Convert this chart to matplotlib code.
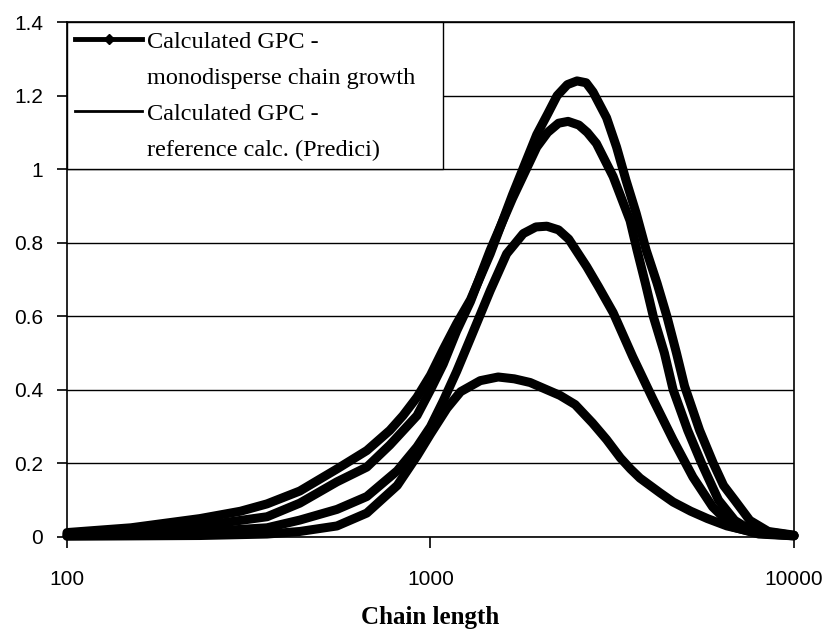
import matplotlib.pyplot as plt
from matplotlib.lines import Line2D
from matplotlib.ticker import NullLocator

plt.rcParams['font.family'] = ['Liberation Serif', 'DejaVu Serif']

# GPC curves (chain length, signal)
len_a = [100, 150, 232, 300, 355, 437, 553, 668, 773, 840, 918, 1000, 1084, 1180, 1288,
         1460, 1680, 1960, 2100, 2230, 2380, 2530, 2680, 2800, 3050, 3250, 3450, 3680,
         3920, 4200, 4470, 4750, 5000, 5500, 6000, 6400, 6870, 7560, 8500, 10000]
gpc_a = [0.012, 0.025, 0.05, 0.07, 0.09, 0.125, 0.185, 0.235, 0.29, 0.33, 0.38, 0.44,
         0.51, 0.58, 0.645, 0.77, 0.93, 1.094, 1.15, 1.2, 1.23, 1.24, 1.235, 1.21, 1.14,
         1.06, 0.97, 0.88, 0.78, 0.69, 0.6, 0.5, 0.41, 0.29, 0.2, 0.14, 0.1, 0.045, 0.015,
         0.005]

len_b = [100, 232, 355, 437, 553, 668, 773, 918, 1000, 1084, 1180, 1288, 1460, 1680,
         1960, 2100, 2250, 2390, 2560, 2700, 2860, 3180, 3540, 3700, 3900, 4100, 4400,
         4650, 5100, 5570, 6200, 6870, 7560, 10000]
gpc_b = [0.008, 0.03, 0.055, 0.092, 0.15, 0.19, 0.25, 0.33, 0.4, 0.47, 0.56, 0.64, 0.78,
         0.92, 1.06, 1.1, 1.125, 1.13, 1.12, 1.1, 1.07, 0.98, 0.86, 0.78, 0.69, 0.6, 0.5,
         0.4, 0.29, 0.2, 0.1, 0.045, 0.02, 0.004]

len_c = [100, 232, 355, 437, 553, 668, 810, 918, 1000, 1084, 1180, 1288, 1460, 1620,
         1800, 1950, 2090, 2250, 2400, 2690, 2900, 3180, 3600, 4100, 4650, 5270, 5970,
         6800, 8000, 10000]
gpc_c = [0.004, 0.014, 0.025, 0.046, 0.075, 0.11, 0.18, 0.245, 0.3, 0.37, 0.45, 0.54,
         0.67, 0.77, 0.825, 0.843, 0.845, 0.835, 0.81, 0.735, 0.68, 0.61, 0.49, 0.373,
         0.264, 0.163, 0.082, 0.027, 0.008, 0.003]

len_d = [100, 232, 355, 437, 553, 668, 810, 918, 1000, 1110, 1210, 1370, 1535, 1700,
         1880, 2270, 2500, 2790, 3050, 3330, 3550, 3770, 4280, 4650, 5200, 5780, 6540,
         8000, 10000]
gpc_d = [0.002, 0.004, 0.008, 0.015, 0.03, 0.065, 0.14, 0.22, 0.28, 0.35, 0.395, 0.425,
         0.435, 0.43, 0.42, 0.385, 0.36, 0.31, 0.265, 0.215, 0.185, 0.16, 0.12, 0.095,
         0.07, 0.05, 0.03, 0.01, 0.003]

y_ticks = [0, 0.2, 0.4, 0.6, 0.8, 1, 1.2, 1.4]
y_labels = ['0', '0.2', '0.4', '0.6', '0.8', '1', '1.2', '1.4']
x_ticks = [100, 1000, 10000]
x_labels = ['100', '1000', '10000']

fig = plt.figure(figsize=(8.29, 6.31), dpi=100)
ax = fig.add_axes([0.0808, 0.149, 0.877, 0.816])

for xs, ys in [(len_a, gpc_a), (len_b, gpc_b), (len_c, gpc_c), (len_d, gpc_d)]:
    ax.plot(xs, ys, color='black', lw=6.5, solid_capstyle='round',
            solid_joinstyle='round', clip_on=False, zorder=3)

ax.set_xscale('log')
ax.set_xlim(100, 10000)
ax.set_ylim(0, 1.4)
ax.set_xticks(x_ticks)
ax.set_xticklabels(x_labels)
ax.xaxis.set_minor_locator(NullLocator())
ax.set_yticks(y_ticks)
ax.set_yticklabels(y_labels)

ax.set_axisbelow(True)
ax.yaxis.grid(True, color='black', lw=1)
for sp in ax.spines.values():
    sp.set_linewidth(1.2)
ax.tick_params(axis='x', direction='out', length=8, width=1.2, labelsize=15, pad=16)
ax.tick_params(axis='y', direction='out', length=7, width=1.2, labelsize=15, pad=10)
for lbl in ax.get_xticklabels() + ax.get_yticklabels():
    lbl.set_fontfamily('Liberation Sans')

ax.set_xlabel('Chain length', fontweight='bold', fontsize=18, labelpad=12)

handles = [Line2D([], [], color='black', lw=3.5, marker='D', ms=5),
           Line2D([], [], color='none'),
           Line2D([], [], color='black', lw=2),
           Line2D([], [], color='none')]
labels = ['Calculated GPC -', 'monodisperse chain growth',
          'Calculated GPC -', 'reference calc. (Predici)']
leg = ax.legend(handles, labels, loc='upper left', bbox_to_anchor=(0, 0, 0.517, 1),
                mode='expand', borderaxespad=0, fancybox=False, framealpha=1,
                edgecolor='black', prop={'family': 'Liberation Serif', 'size': 17.5},
                handlelength=2.75, handletextpad=0.2, labelspacing=0.58, borderpad=0.35)
leg.get_frame().set_linewidth(1)
leg.set_zorder(5)

plt.savefig('out.png', dpi=100)
